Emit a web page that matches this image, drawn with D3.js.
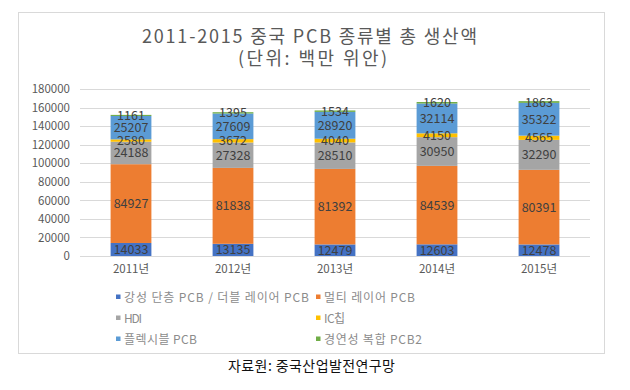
<!DOCTYPE html>
<html><head><meta charset="utf-8">
<script src="https://cdn.jsdelivr.net/npm/d3@7"></script>
<style>
body{margin:0;background:#fff;}
text{font-family:"Noto Sans CJK KR","Noto Sans",sans-serif;}
</style></head>
<body><svg id="c" width="630" height="390"></svg>
<script>
const years = ["2011년","2012년","2013년","2014년","2015년"];
const seriesNames = ["강성 단층 PCB  / 더블 레이어 PCB","멀티 레이어 PCB","HDI","IC칩","플렉시블 PCB","경연성 복합 PCB2"];
const sRigid = [14033,13135,12479,12603,12478];
const sMulti = [84927,81838,81392,84539,80391];
const sHDI = [24188,27328,28510,30950,32290];
const sIC = [2580,3672,4040,4150,4565];
const sFlex = [25207,27609,28920,32114,35322];
const sRF = [1161,1395,1534,1620,1863];
const colors = ["#4472C4","#ED7D31","#A5A5A5","#FFC000","#5B9BD5","#70AD47"];
const yTicks = [0,20000,40000,60000,80000,100000,120000,140000,160000,180000];

const svg = d3.select("#c");
svg.append("rect").attr("x",18.5).attr("y",12.5).attr("width",586).attr("height",341)
  .attr("fill","#fff").attr("stroke","#d9d9d9");

svg.append("text").attr("x",142).attr("y",42.5)
  .attr("font-size",18).attr("fill","#595959")
  .attr("textLength",335).attr("lengthAdjust","spacing").text("2011-2015 중국 PCB 종류별 총 생산액");
svg.append("text").attr("x",238).attr("y",64.5)
  .attr("font-size",18).attr("fill","#595959")
  .attr("textLength",149).attr("lengthAdjust","spacing").text("(단위: 백만 위안)");

const x = d3.scaleBand().domain(years).range([80,590]).paddingInner(0.6).paddingOuter(0.3);
const y = d3.scaleLinear().domain([0,180000]).range([256,89]);

const g = svg.append("g");
g.selectAll("line.grid").data(yTicks).join("line")
  .attr("x1",80).attr("x2",590).attr("y1",d=>Math.round(y(d))+0.5).attr("y2",d=>Math.round(y(d))+0.5)
  .attr("stroke","#d9d9d9").attr("stroke-width",1);

const yAxis = d3.axisLeft(y).tickValues(yTicks).tickSize(0).tickPadding(10).tickFormat(d3.format("d"));
const ya = svg.append("g").attr("transform","translate(80,0)").call(yAxis);
ya.select(".domain").remove();
ya.selectAll("text").attr("font-size",11.5).attr("fill","#595959").attr("font-family","Noto Sans CJK KR, sans-serif");

const xAxis = d3.axisBottom(x).tickSize(0).tickPadding(9);
const xa = svg.append("g").attr("transform","translate(0,256)").call(xAxis);
xa.select(".domain").remove();
xa.selectAll("text").attr("font-size",11.5).attr("fill","#595959").attr("font-family","Noto Sans CJK KR, sans-serif");

const allSeries = [sRigid,sMulti,sHDI,sIC,sFlex,sRF];
const table = years.map((yr,i)=>{const o={year:yr}; seriesNames.forEach((s,k)=>o[s]=allSeries[k][i]); return o;});
const stacked = d3.stack().keys(seriesNames)(table);

stacked.forEach((layer,k)=>{
  const lg = svg.append("g");
  lg.selectAll("rect").data(layer).join("rect")
    .attr("x",d=>x(d.data.year)).attr("width",x.bandwidth())
    .attr("y",d=>y(d[1])).attr("height",d=>y(d[0])-y(d[1]))
    .attr("fill",colors[k]);
});
stacked.forEach((layer,k)=>{
  const lg = svg.append("g");
  lg.selectAll("text").data(layer).join("text")
    .attr("x",d=>x(d.data.year)+x.bandwidth()/2)
    .attr("y",d=>(y(d[0])+y(d[1]))/2+4.5)
    .attr("text-anchor","middle").attr("font-size",12.5).attr("fill","#404040")
    .text(d=>d[1]-d[0]);
});

const legPos = [[116,297],[316,297],[116,318],[316,318],[116,339],[316,339]];
const legW = [185,91,18,21,73,98];
seriesNames.forEach((s,k)=>{
  svg.append("rect").attr("x",legPos[k][0]).attr("y",legPos[k][1]-2.5).attr("width",4.5).attr("height",4.5).attr("fill",colors[k]);
  svg.append("text").attr("x",legPos[k][0]+8).attr("y",legPos[k][1]+4.5).attr("font-size",12).attr("fill","#8c8c8c")
    .attr("textLength",legW[k]).attr("lengthAdjust","spacing").text(s);
});

svg.append("text").attr("x",228).attr("y",371)
  .attr("font-size",14).attr("fill","#111")
  .attr("textLength",167).attr("lengthAdjust","spacing").text("자료원: 중국산업발전연구망");
</script></body></html>
